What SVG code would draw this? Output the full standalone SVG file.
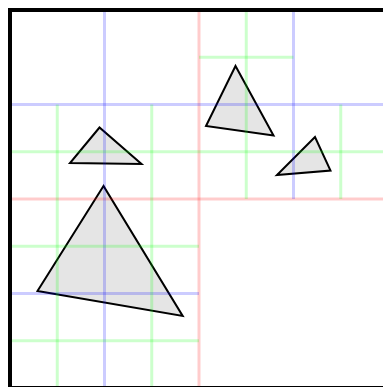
<svg xmlns="http://www.w3.org/2000/svg" width="383" height="387" viewBox="0 0 383 387">
<style>
.tri{fill:#e5e5e5;stroke:#000;stroke-width:2;stroke-linejoin:miter}
.l0{stroke:rgba(255,0,0,0.2);stroke-width:3}
.l1{stroke:rgba(0,0,255,0.2);stroke-width:3}
.l2{stroke:rgba(0,255,0,0.2);stroke-width:3}
</style>
<rect x="0" y="0" width="383" height="387" fill="#fff"/>
<g id="shapes">
<polygon class="tri" points="99.5,127.5 70,163 141.5,164"/>
<polygon class="tri" points="103.5,186 37.5,291 182.7,316"/>
<polygon class="tri" points="235.5,66 206,126 273.5,135.5"/>
<polygon class="tri" points="315,137 277,175 330.5,170.5"/>
</g>
<g id="grid">
<g id="depth0">
<line class="l0" x1="199" y1="10" x2="199" y2="388"/>
<line class="l0" x1="10" y1="199" x2="388" y2="199"/>
</g>
<g id="depth1">
<line class="l1" x1="104.5" y1="10" x2="104.5" y2="199"/>
<line class="l1" x1="10" y1="104.5" x2="199" y2="104.5"/>
<line class="l1" x1="293.5" y1="10" x2="293.5" y2="199"/>
<line class="l1" x1="199" y1="104.5" x2="388" y2="104.5"/>
<line class="l1" x1="104.5" y1="199" x2="104.5" y2="388"/>
<line class="l1" x1="10" y1="293.5" x2="199" y2="293.5"/>
</g>
<g id="depth2">
<line class="l2" x1="57.25" y1="104.5" x2="57.25" y2="199"/>
<line class="l2" x1="151.75" y1="104.5" x2="151.75" y2="199"/>
<line class="l2" x1="10" y1="151.75" x2="199" y2="151.75"/>
<line class="l2" x1="246.25" y1="10" x2="246.25" y2="199"/>
<line class="l2" x1="199" y1="57.25" x2="293.5" y2="57.25"/>
<line class="l2" x1="199" y1="151.75" x2="388" y2="151.75"/>
<line class="l2" x1="340.75" y1="104.5" x2="340.75" y2="199"/>
<line class="l2" x1="57.25" y1="199" x2="57.25" y2="388"/>
<line class="l2" x1="151.75" y1="199" x2="151.75" y2="388"/>
<line class="l2" x1="10" y1="246.25" x2="199" y2="246.25"/>
<line class="l2" x1="10" y1="340.75" x2="199" y2="340.75"/>
</g>
</g>
<rect id="border" x="10" y="10" width="378" height="378" fill="none" stroke="#000" stroke-width="4"/>
</svg>
